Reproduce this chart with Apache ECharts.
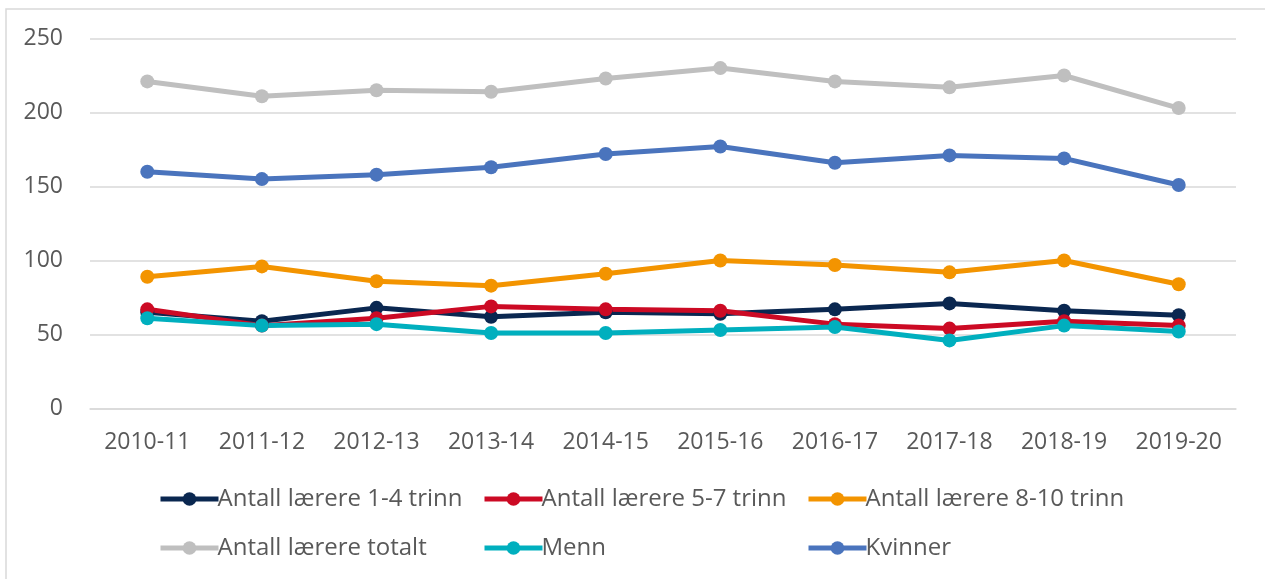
<!DOCTYPE html>
<html>
<head>
<meta charset="utf-8">
<script src="https://cdn.jsdelivr.net/npm/echarts@6/dist/echarts.min.js"></script>
<style>
  html, body { margin: 0; padding: 0; background: #fff; }
  #chart { width: 1265px; height: 579px; }
</style>
</head>
<body>
<div id="chart"></div>
<script>
// School years on the x axis
const years = ['2010-11', '2011-12', '2012-13', '2013-14', '2014-15', '2015-16', '2016-17', '2017-18', '2018-19', '2019-20'];

// Teacher counts per series
const trinn14 = [65, 59, 68, 62, 65, 64, 67, 71, 66, 63];
const trinn57 = [67, 56, 61, 69, 67, 66, 57, 54, 59, 56];
const trinn810 = [89, 96, 86, 83, 91, 100, 97, 92, 100, 84];
const totalt = [221, 211, 215, 214, 223, 230, 221, 217, 225, 203];
const menn = [61, 56, 57, 51, 51, 53, 55, 46, 56, 52];
const kvinner = [160, 155, 158, 163, 172, 177, 166, 171, 169, 151];

// Y axis ticks
const yTicks = { min: 0, max: 250, interval: 50 };

const seriesDefs = [
  { name: 'Antall lærere 1-4 trinn', data: trinn14, color: '#0A2750' },
  { name: 'Antall lærere 5-7 trinn', data: trinn57, color: '#CC0A24' },
  { name: 'Antall lærere 8-10 trinn', data: trinn810, color: '#F39400' },
  { name: 'Antall lærere totalt', data: totalt, color: '#BFBFBF' },
  { name: 'Menn', data: menn, color: '#00AFBE' },
  { name: 'Kvinner', data: kvinner, color: '#4A74BD' }
];

const font = '"Open Sans", "Noto Sans", sans-serif';
const textColor = '#595959';

// One legend per item so they sit in fixed columns
const legendCols = [158, 482, 806];
const legendRows = [487, 536];
const legends = seriesDefs.map((s, i) => ({
  data: [s.name],
  left: legendCols[i % 3],
  top: legendRows[Math.floor(i / 3)],
  itemWidth: 58,
  itemHeight: 17,
  itemGap: 0,
  padding: 0,
  lineStyle: { width: 5 },
  textStyle: { fontFamily: font, fontSize: 24, lineHeight: 24, color: textColor, padding: [0, 0, 0, -6] }
}));

const chart = echarts.init(document.getElementById('chart'), null, { renderer: 'canvas' });
chart.setOption({
  backgroundColor: '#fff',
  animation: false,
  graphic: [{
    type: 'rect',
    shape: { x: 6, y: 9, width: 1300, height: 600 },
    style: { fill: 'none', stroke: '#D9D9D9', lineWidth: 1.5 },
    silent: true,
    z: -1
  }],
  legend: legends,
  grid: { left: 90, right: 29, top: 38.5, bottom: 170.5, containLabel: false },
  xAxis: {
    type: 'category',
    data: years,
    boundaryGap: true,
    axisLine: { show: true, lineStyle: { color: '#D9D9D9', width: 1.5 } },
    axisTick: { show: false },
    axisLabel: { fontFamily: font, fontSize: 23, color: textColor, margin: 22 }
  },
  yAxis: {
    type: 'value',
    min: yTicks.min,
    max: yTicks.max,
    interval: yTicks.interval,
    axisLine: { show: false },
    axisTick: { show: false },
    splitLine: { lineStyle: { color: '#D9D9D9', width: 1.5 } },
    axisLabel: { fontFamily: font, fontSize: 23, color: textColor, margin: 27 }
  },
  series: seriesDefs.map(s => ({
    name: s.name,
    type: 'line',
    data: s.data,
    symbol: 'circle',
    symbolSize: 14,
    lineStyle: { width: 5, color: s.color },
    itemStyle: { color: s.color },
    emphasis: { disabled: true }
  }))
});
</script>
</body>
</html>
